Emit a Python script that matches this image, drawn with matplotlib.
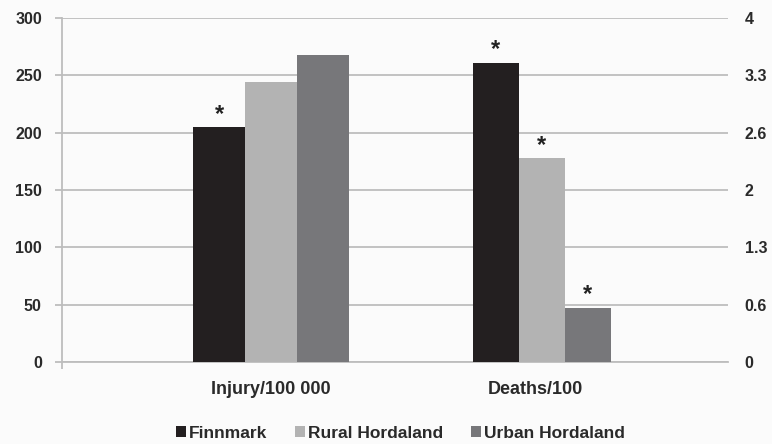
import matplotlib
matplotlib.use("Agg")
import matplotlib.pyplot as plt
import matplotlib.transforms as mtransforms
import numpy as np
from matplotlib.patches import Patch

categories = ["Injury/100 000", "Deaths/100"]
series = ["Finnmark", "Rural Hordaland", "Urban Hordaland"]
injury = [205, 244, 268]          # left axis
deaths = [3.48, 2.37, 0.63]       # right axis
injury_star = [True, False, False]
deaths_star = [True, True, True]
left_ticks = [0, 50, 100, 150, 200, 250, 300]
right_tick_labels = ["0", "0.6", "1.3", "2", "2.6", "3.3", "4"]

colors = ["#231f20", "#b3b3b3", "#77777a"]
grid_c = "#bdbdbd"
text_c = "#2a2a2a"

plt.rcParams['font.family'] = ['Liberation Sans', 'DejaVu Sans']

fig = plt.figure(figsize=(7.72, 4.44), dpi=100)
fig.patch.set_facecolor("#fbfbfb")
ax = fig.add_axes([62/772, 1-362/444, 666/772, 344/444])
ax.set_facecolor("#fbfbfb")
ax2 = ax.twinx()

w_inj = 0.192
w_dea = 0.170
x_inj = 0.0
x_dea = 1.0
offs = [-1, 0, 1]

for i, s in enumerate(series):
    ax.bar(x_inj + offs[i]*w_inj, injury[i], width=w_inj, color=colors[i], zorder=3)
    if injury_star[i]:
        ax.annotate("*", (x_inj + offs[i]*w_inj, injury[i]), xytext=(0, 1),
                    textcoords="offset points", ha="center", va="bottom",
                    fontsize=17, fontweight="bold", color="#222222")
for i, s in enumerate(series):
    ax2.bar(x_dea + offs[i]*w_dea, deaths[i], width=w_dea, color=colors[i], zorder=3)
    if deaths_star[i]:
        ax2.annotate("*", (x_dea + offs[i]*w_dea, deaths[i]), xytext=(0, 1),
                     textcoords="offset points", ha="center", va="bottom",
                     fontsize=17, fontweight="bold", color="#222222")

xl = (-0.773, 1.689)
ax.set_xlim(*xl)
ax.set_ylim(0, 300)
ax2.set_ylim(0, 4)
ax.set_yticks(left_ticks)
ax.set_yticklabels([str(t) for t in left_ticks])
ax2.set_yticks(np.linspace(0, 4, len(right_tick_labels)))
ax2.set_yticklabels(right_tick_labels)

ax.yaxis.grid(True, color=grid_c, linewidth=1.3, zorder=0)
ax.set_axisbelow(True)
for sp in ["top", "right"]:
    ax.spines[sp].set_visible(False)
for sp in ["top", "right", "left", "bottom"]:
    ax2.spines[sp].set_visible(False)
ax.spines["left"].set_color(grid_c)
ax.spines["left"].set_linewidth(1.3)
ax.spines["bottom"].set_color(grid_c)
ax.spines["bottom"].set_linewidth(1.3)

ax.tick_params(axis="y", length=5, width=1.3, color=grid_c, pad=9.5,
               labelsize=11.5, labelcolor=text_c)
for lab in ax.get_yticklabels():
    lab.set_fontweight("bold")
ax2.tick_params(axis="y", length=0, pad=12, labelsize=11.5, labelcolor=text_c)
for lab in ax2.get_yticklabels():
    lab.set_fontweight("bold")

ax.set_xticks([x_inj, x_dea])
ax.set_xticklabels(categories, fontsize=13, fontweight="bold", color=text_c)
ax.tick_params(axis="x", which="major", length=0, pad=14)
ax.set_xticks([xl[0]], minor=True)
ax.tick_params(axis="x", which="minor", length=5, width=1.3, color=grid_c)
# nudge the second category label slightly left, as in the reference
dl = ax.get_xticklabels()[1]
dl.set_transform(dl.get_transform() + mtransforms.ScaledTranslation(-6/100, 0, fig.dpi_scale_trans))

handles = [Patch(facecolor=c, edgecolor="none") for c in colors]
leg = fig.legend(handles, series, loc="center", bbox_to_anchor=(400/772, 1-433/444),
                 ncol=3, frameon=False, handlelength=0.6, handleheight=0.6,
                 handletextpad=0.15, columnspacing=1.6,
                 prop={'weight': 'bold', 'size': 12.5})
for t in leg.get_texts():
    t.set_color(text_c)

fig.savefig("out.png", dpi=100, facecolor=fig.get_facecolor())
